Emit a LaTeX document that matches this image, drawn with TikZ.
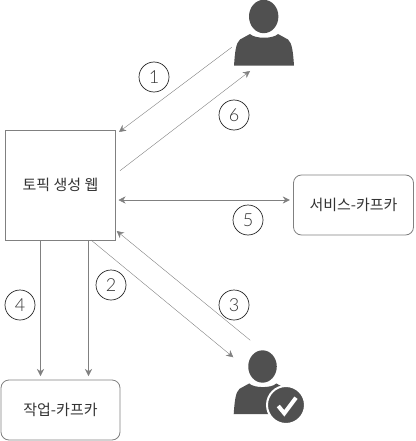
\documentclass[tikz,border=0pt]{standalone}
\usepackage{fontspec}
\setmainfont{Noto Sans CJK KR}
\newfontfamily\numfont{Lato Light}
\usepackage{xcolor}
\usetikzlibrary{arrows.meta,positioning,calc}
\definecolor{flowgray}{HTML}{808080}
\definecolor{icondark}{HTML}{505050}
\definecolor{labeldark}{HTML}{333333}

\begin{document}
\begin{tikzpicture}[
  x=1pt, y=-1pt,
  font=\fontsize{15}{17}\selectfont,
  every node/.style={text=labeldark, outer sep=0pt},
  webbox/.style={draw=flowgray, line width=.8pt, minimum width=110pt, minimum height=110pt, inner sep=0pt},
  kafka/.style={draw=flowgray, line width=.8pt, rounded corners=8pt, minimum width=120pt, minimum height=60pt, inner sep=0pt},
  iconarea/.style={minimum width=#1, inner sep=0pt},
  stepnum/.style={draw=black!85, line width=.7pt, circle, minimum size=30pt, inner sep=0pt, font=\numfont\fontsize{18}{20}\selectfont},
  arr/.style={-{Stealth[length=7pt, width=7pt]}, flowgray},
  biarr/.style={{Stealth[length=7pt, width=7pt]}-{Stealth[length=7pt, width=7pt]}, flowgray},
  person/.pic={
    \fill[icondark] (-0.3,-16.5) ellipse (14.7 and 16.7);
    \fill[icondark] (-30,32.7) .. controls (-29,18) and (-28,10) .. (-24,6.5)
      -- (-14,1) .. controls (-9,6) and (9,6) .. (14,1)
      -- (24,6.5) .. controls (28,10) and (29,18) .. (30,32.7) -- cycle;
  },
]
\useasboundingbox (0,0) rectangle (415,441);
\node[webbox] (web) at (60.5,185) {토픽 생성 웹};
\node[kafka, right=178pt of web, yshift=-20pt] (service) {서비스-카프카};
\node[kafka, minimum width=119pt, below=140pt of web] (job) {작업-카프카};
\node[iconarea=60pt, minimum height=66pt] (user) at (264,33) {};
\node[iconarea=70pt, minimum height=73pt] (approved) at (269,386.5) {};
\pic at (user) {person};
\pic[scale=.97] at ([shift={(-6.2,-4)}]approved) {person};
% check badge
\path[fill=icondark, draw=white, line width=2pt] (286,405) circle (19);
\draw[white, line width=4pt] (278.3,406) -- (284.3,413.3) -- (296,397.7);
\node[stepnum] (n1) at (154,77) {1};
\node[stepnum] (n2) at (111,285) {2};
\node[stepnum] (n3) at (234,305) {3};
\node[stepnum] (n4) at (20,305) {4};
\node[stepnum] (n5) at (248,220) {5};
\node[stepnum] (n6) at (234,115) {6};
\draw[arr] ([shift={(-2.3,14.3)}]user.west) -- ([shift={(3.5,2)}]web.north east);
\draw[arr] ([shift={(30.5,0)}]web.south) -- ([shift={(-.7,7.3)}]approved.north west);
\draw[arr] ([shift={(16.3,-9.7)}]approved.north west) -- ([shift={(1.2,-9)}]web.south east);
\draw[arr] ([xshift=-20pt]web.south) -- ([shift={(-20,-4)}]job.north);
\draw[arr] ([xshift=28pt]web.south) -- ([shift={(28,-4)}]job.north);
\draw[biarr] ([shift={(3,15)}]web.east) -- ([shift={(-3.7,-5)}]service.west);
\draw[arr] ([shift={(4.5,-14.3)}]web.east) -- ([shift={(-14,5)}]user.south);
\end{tikzpicture}
\end{document}
